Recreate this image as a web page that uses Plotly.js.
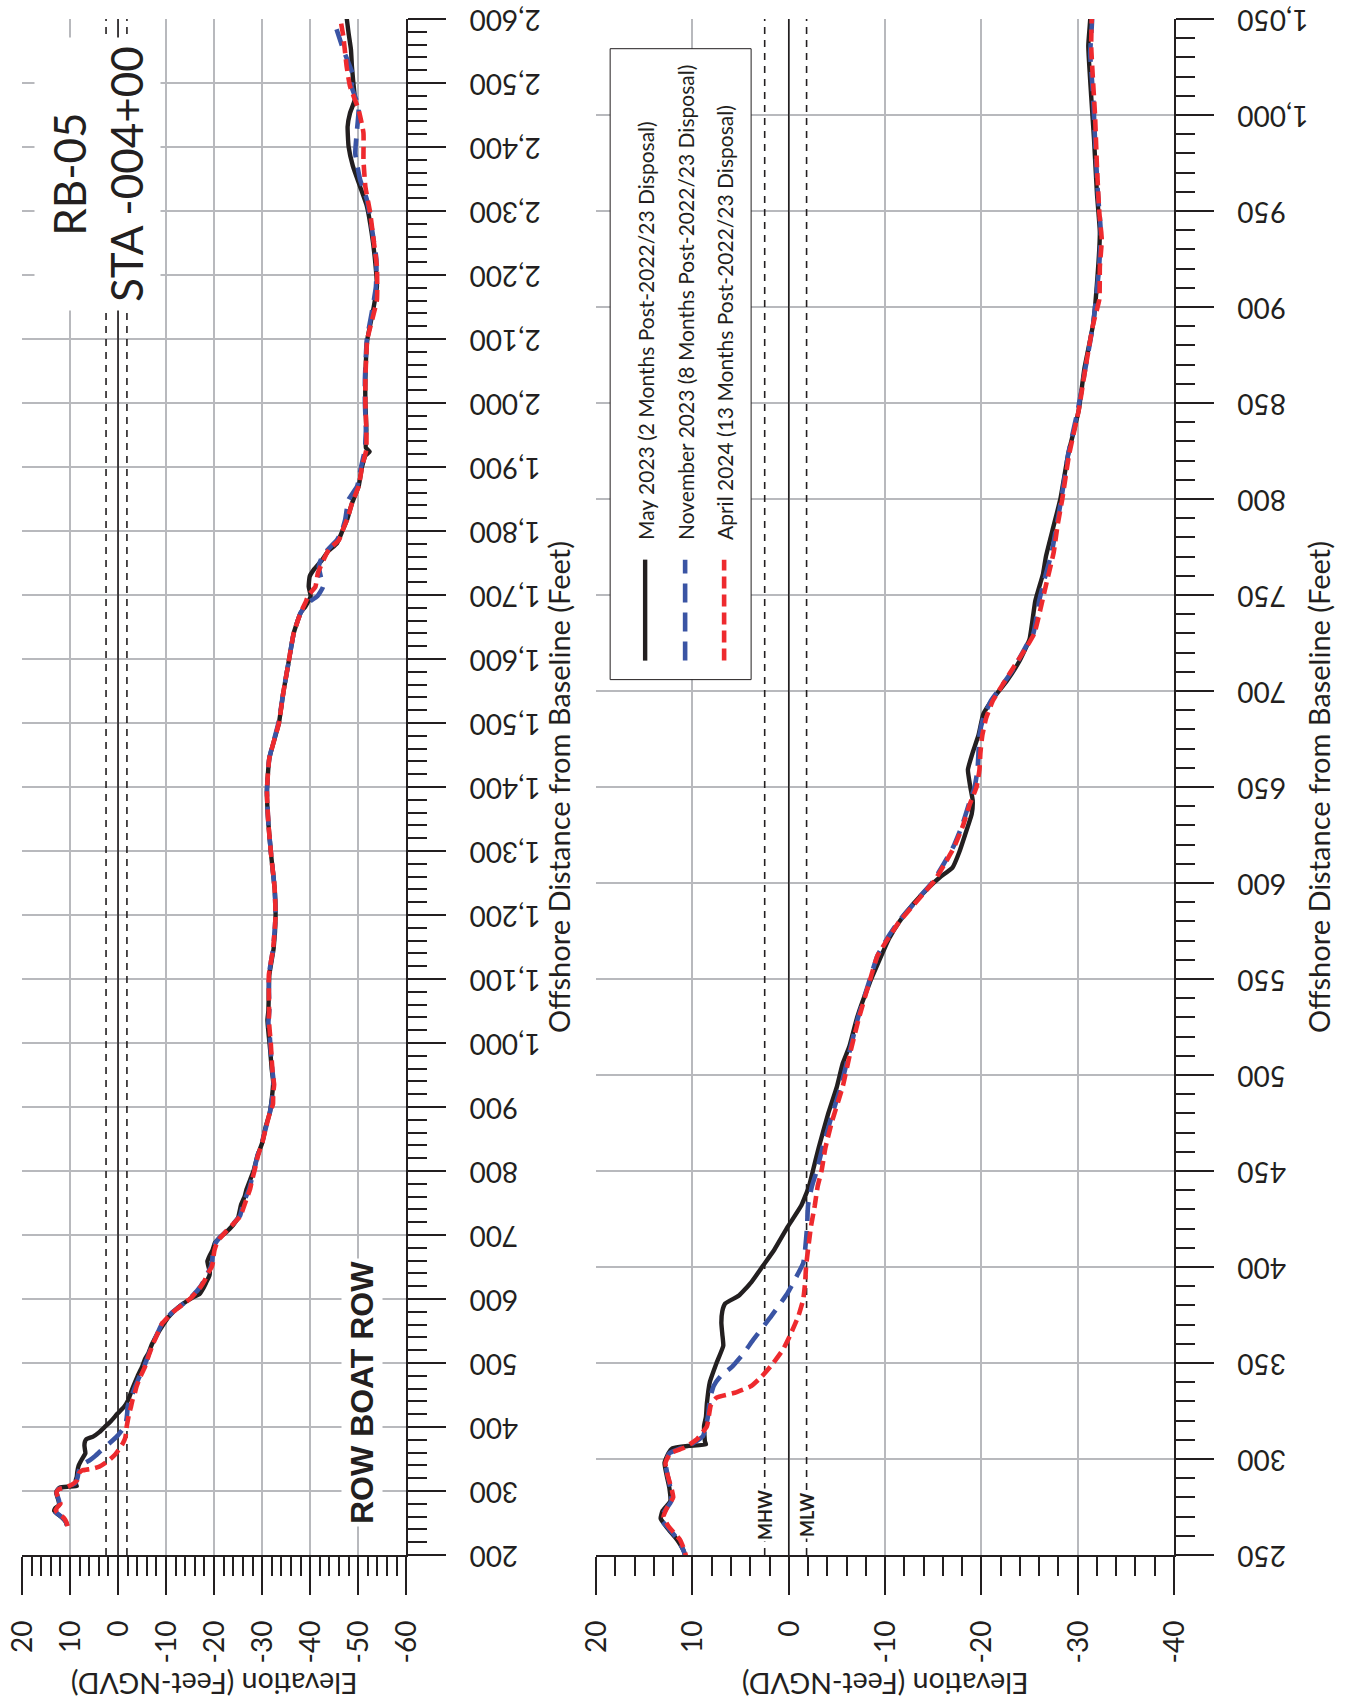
<!DOCTYPE html>
<html>
<head>
<meta charset="utf-8">
<script src="https://cdn.plot.ly/plotly-3.0.1.min.js"></script>
<style>
  html, body { margin: 0; padding: 0; background: #fff; width: 1359px; height: 1701px; overflow: hidden; }
  #plot { position: absolute; left: 0; top: 0; width: 1701px; height: 1359px;
          transform-origin: 0 0; transform: translateY(1701px) rotate(-90deg); }
</style>
</head>
<body>
<div id="plot"></div>
<script>
// ---------------- DATA (distance ft, elevation ft-NGVD) ----------------
const MAY_2023 = [[246,10.6],[252,10.9],[258,11.6],[264,12.6],[269,13.3],[273,13.1],[278,12.3],[285,12.4],[292,12.7],[298,12.9],
 [303,12.5],[305.5,12.1],[306.8,10.4],[307.6,8.6],[309,8.7],[317,8.8],[322,8.6],[329,8.5],[340,8.2],[350,7.5],
 [359,6.8],[365,6.9],[371,7.0],[377,6.9],[381,6.6],[385,5.2],[392,3.9],[400.5,2.7],[409,1.5],[421,0.1],
 [432,-1.3],[442,-2.1],[450,-2.5],[462,-3.1],[480,-4.1],[494,-5.0],[506,-5.6],[515,-6.3],[530,-7.1],
 [548,-8.4],[562,-9.6],[571,-10.4],[580,-11.5],[589,-12.9],[598,-14.6],[603,-15.7],[608,-17.0],[616,-17.7],[625,-18.3],
 [636,-19.0],[643,-19.1],[650,-18.85],[659,-18.6],[668,-19.1],[677,-19.7],[688,-20.2],[696,-21.2],[705,-22.6],[716,-24.0],
 [727,-25.0],[747,-25.6],[761,-26.4],[770,-26.7],[786,-27.5],[800,-28.2],[823,-29.0],[846,-30.1],[868,-30.7],[891,-31.6],
 [919,-32.1],[939,-32.3],[959,-32.0],[987,-31.7],[1010,-31.4],[1036,-31.1],[1050,-31.3],[1106,-31.5],[1148,-32.4],[1199,-32.8],
 [1242,-32.6],[1292,-31.9],[1343,-31.3],[1394,-31.0],[1445,-31.5],[1500,-33.5],[1547,-34.4],[1599,-35.6],[1641,-36.6],[1672,-38.0],
 [1682,-39.0],[1698,-40.1],[1713,-39.7],[1729,-39.9],[1740,-40.8],[1755,-42.5],[1768,-43.7],[1781,-45.6],[1800,-46.7],[1818,-47.7],
 [1844,-48.75],[1870,-50.1],[1900,-50.8],[1918,-51.5],[1924,-52.4],[1930,-51.6],[1958,-51.7],[2000,-51.5],[2037,-51.5],[2099,-51.9],
 [2140,-53.0],[2182,-53.9],[2224,-53.5],[2266,-52.8],[2308,-51.8],[2338,-50.4],[2370,-48.9],[2401,-48.0],[2432,-47.8],[2453,-48.3],
 [2474,-49.3],[2500,-49.0],[2526,-48.7],[2552,-48.5],[2578,-48.0],[2602,-47.6]];

const NOV_2023 = [[246,10.6],[252,10.9],[258,11.5],[264,12.5],[268,13.2],[272,13.0],[278,12.2],[285,12.3],[292,12.6],[298,12.8],
 [303,12.4],[306,11.0],[308,10.0],[312,8.9],[322,8.4],[331,8.2],[338,7.8],[343,7.1],[348,5.9],[355,4.7],
 [362,3.7],[374.5,1.8],[386.6,0.1],[395,-0.8],[402,-1.5],[409,-1.7],[421,-1.9],[432,-2.0],[442,-2.4],[450,-2.9],
 [462,-3.5],[476,-4.3],[494,-5.4],[512,-6.3],[530,-7.2],[548,-8.3],[562,-9.2],[571,-10.2],[580,-11.4],[587,-12.6],
 [594,-13.8],[601,-15.0],[610,-16.1],[619,-17.1],[630,-18.0],[641,-18.7],[650,-19.3],[659,-19.6],[668,-19.7],[677,-19.8],
 [686,-20.2],[695,-21.0],[704,-22.3],[712,-23.4],[723,-24.6],[730,-25.4],[747,-26.0],[761,-26.7],[772,-27.3],[786,-27.8],
 [800,-28.3],[823,-29.0],[846,-30.0],[868,-30.8],[891,-31.6],[919,-32.2],[939,-32.4],[959,-32.1],[987,-31.8],[1010,-31.6],
 [1032,-31.3],[1050,-31.5],[1106,-31.4],[1148,-32.3],[1199,-32.8],[1242,-32.6],[1292,-31.9],[1343,-31.3],[1394,-31.0],[1445,-31.5],
 [1500,-33.4],[1547,-34.4],[1599,-35.6],[1641,-36.6],[1672,-38.0],[1687,-39.4],[1698,-41.5],[1713,-42.7],[1729,-42.2],[1745,-41.8],
 [1760,-42.5],[1771,-43.7],[1786,-45.6],[1800,-46.6],[1818,-47.3],[1849,-48.0],[1870,-49.8],[1900,-50.6],[1927,-51.4],[1958,-51.6],
 [2000,-51.4],[2037,-51.4],[2099,-51.8],[2140,-52.8],[2182,-53.7],[2224,-53.8],[2266,-53.0],[2318,-51.8],[2349,-50.4],[2390,-49.4],
 [2422,-49.7],[2463,-50.1],[2495,-48.6],[2510,-49.0],[2552,-46.9],[2584,-45.5]];

const APR_2024 = [[245,10.5],[252,10.8],[258,11.3],[265,12.5],[270,13.0],[275,12.6],[280,12.0],[285,12.2],[292,12.6],[298,12.8],
 [303,12.3],[306,10.8],[310,9.6],[317,8.5],[328,8.1],[332,7.5],[334.5,5.6],[338,3.9],[343,2.8],[350,1.6],
 [357,0.6],[364,-0.1],[374.5,-1.0],[383,-1.5],[392,-1.7],[400.5,-1.8],[409,-2.0],[421,-2.3],[432,-2.7],[442,-3.0],
 [450,-3.4],[462,-3.8],[476,-4.5],[494,-5.6],[512,-6.4],[530,-7.3],[548,-8.35],[562,-9.2],[571,-10.3],[580,-11.5],
 [587,-12.7],[594,-13.9],[601,-15.1],[610,-16.2],[619,-17.2],[630,-18.1],[641,-18.8],[650,-19.5],[659,-19.8],[668,-19.9],
 [677,-20.1],[686,-20.5],[695,-21.2],[704,-22.3],[712,-23.3],[723,-24.7],[730,-25.5],[755,-26.7],[772,-27.5],[786,-27.9],
 [800,-28.4],[823,-29.1],[846,-30.1],[868,-30.8],[891,-31.6],[904,-32.25],[921,-32.3],[935,-32.5],[949,-32.25],[973,-32.0],
 [1000,-31.8],[1017,-31.6],[1036,-31.4],[1050,-31.45],[1106,-31.4],[1148,-32.3],[1199,-32.8],[1242,-32.6],[1292,-31.9],[1343,-31.3],
 [1394,-31.0],[1445,-31.5],[1500,-33.5],[1547,-34.4],[1599,-35.6],[1641,-36.6],[1672,-38.0],[1688,-39.0],[1700,-39.7],[1713,-41.1],
 [1734,-41.6],[1755,-42.8],[1771,-43.9],[1786,-46.0],[1800,-46.7],[1818,-47.7],[1844,-48.75],[1870,-50.1],[1900,-50.8],[1927,-51.7],
 [1958,-51.7],[2000,-51.5],[2037,-51.5],[2099,-51.9],[2161,-53.9],[2213,-53.9],[2255,-53.2],[2297,-52.5],[2338,-51.5],[2380,-51.1],
 [2422,-51.1],[2458,-50.1],[2495,-48.3],[2526,-47.6],[2573,-46.9],[2602,-46.25]];

const SERIES_NAMES = ['May 2023 (2 Months Post-2022/23 Disposal)',
                      'November 2023 (8 Months Post-2022/23 Disposal)',
                      'April 2024 (13 Months Post-2022/23 Disposal)'];

// tidal datums (ft NGVD)
const MHW_ELEV = 2.5;
const MLW_ELEV = -1.85;
const MSL_ELEV = 0;

// ticks
const TOP_DIST_TICKS  = [200,300,400,500,600,700,800,900,1000,1100,1200,1300,1400,1500,1600,1700,1800,1900,2000,2100,2200,2300,2400,2500,2600];
const TOP_DIST_LABELS = ['200','300','400','500','600','700','800','900','1,000','1,100','1,200','1,300','1,400','1,500','1,600','1,700','1,800','1,900','2,000','2,100','2,200','2,300','2,400','2,500','2,600'];
const BOT_DIST_TICKS  = [250,300,350,400,450,500,550,600,650,700,750,800,850,900,950,1000,1050];
const BOT_DIST_LABELS = ['250','300','350','400','450','500','550','600','650','700','750','800','850','900','950','1,000','1,050'];
const TOP_ELEV_TICKS  = [20,10,0,-10,-20,-30,-40,-50,-60];
const TOP_ELEV_LABELS = ['20','10','0','-10','-20','-30','-40','-50','-60'];
const BOT_ELEV_TICKS  = [20,10,0,-10,-20,-30,-40];
const BOT_ELEV_LABELS = ['20','10','0','-10','-20','-30','-40'];
const TOP_DIST_RANGE = [200, 2600];
const BOT_DIST_RANGE = [250, 1050];

// ---------------- STYLE ----------------
const FONT = 'Lato, "Open Sans", sans-serif';
const INK = '#231f20';
const GRID = '#b8b9bd';
const STYLES = [
  {color: '#231f20', width: 4.4, dash: 'solid'},
  {color: '#3a54a4', width: 4.6, dash: '19px,10px'},
  {color: '#ee2a2e', width: 4.6, dash: '12px,6px'}
];
const SURVEYS = [MAY_2023, NOV_2023, APR_2024];

// figure geometry (unrotated landscape, px)
const FW = 1701, FH = 1359;
const ML = 145.5, MR = 19.3, MT = 21.7, MB = 185;
const PW = FW - ML - MR, PH = FH - MT - MB;
const TOP_PANEL_BOTTOM = 406, BOT_PANEL_TOP = 596;
const px = v => (v - ML) / PW;
const py = v => (FH - MB - v) / PH;

const traces = [];
// tidal datum reference lines (drawn first, under the profiles)
[['x','y',TOP_DIST_RANGE],['x2','y2',BOT_DIST_RANGE]].forEach(([xa, ya, rng]) => {
  [[MSL_ELEV,'solid'],[MHW_ELEV,'7px,6px'],[MLW_ELEV,'7px,6px']].forEach(([v, dash]) => {
    traces.push({type: 'scatter', mode: 'lines', x: rng, y: [v, v], xaxis: xa, yaxis: ya,
                 showlegend: false, hoverinfo: 'skip', line: {color: INK, width: 1.6, dash: dash}});
  });
});
[['x','y'],['x2','y2']].forEach(([xa, ya]) => {
  SURVEYS.forEach((s, i) => {
    traces.push({
      type: 'scatter', mode: 'lines', name: SERIES_NAMES[i],
      x: s.map(p => p[0]), y: s.map(p => p[1]),
      xaxis: xa, yaxis: ya, showlegend: false, hoverinfo: 'skip',
      line: {color: STYLES[i].color, width: STYLES[i].width, dash: STYLES[i].dash, shape: 'spline', smoothing: 0.4}
    });
  });
});

function distAxis(range, ticks, labels, minorStep, anchor) {
  return {
    range: range, anchor: anchor, domain: [0, 1],
    tickmode: 'array', tickvals: ticks, ticktext: labels, tickangle: -90,
    ticks: 'outside', ticklen: 38, tickwidth: 2, tickcolor: INK, ticklabelstandoff: 12,
    minor: {dtick: minorStep, ticks: 'outside', ticklen: 19, tickwidth: 2, tickcolor: INK, showgrid: false},
    showgrid: true, gridcolor: GRID, gridwidth: 2, zeroline: false,
    showline: true, linecolor: INK, linewidth: 2,
    tickfont: {family: FONT, size: 28, color: INK},
    title: {text: 'Offshore Distance from Baseline (Feet)', font: {family: FONT, size: 29, color: INK}, standoff: 2},
    automargin: false
  };
}
function elevAxis(range, ticks, labels, domain, anchor) {
  return {
    range: range, anchor: anchor, domain: domain,
    tickmode: 'array', tickvals: ticks, ticktext: labels,
    ticks: 'outside', ticklen: 38, tickwidth: 2, tickcolor: INK, ticklabelstandoff: 20,
    minor: {dtick: 2, ticks: 'outside', ticklen: 19, tickwidth: 2, tickcolor: INK, showgrid: false},
    showgrid: true, gridcolor: GRID, gridwidth: 2, zeroline: false,
    showline: true, linecolor: INK, linewidth: 2,
    tickfont: {family: FONT, size: 28, color: INK},
    title: {text: 'Elevation (Feet-NGVD)', font: {family: FONT, size: 28.5, color: INK}, standoff: 16},
    automargin: false
  };
}

const topDomain = [py(TOP_PANEL_BOTTOM), 1];
const botDomain = [0, py(BOT_PANEL_TOP)];

// legend box (manual, to reproduce the long line samples)
const LEG = {x0: 1021, x1: 1652, y0: 610, y1: 751, lineX0: 1040, lineX1: 1141, textX: 1159, rows: [645, 685, 724]};
const shapes = [];
shapes.push({type: 'rect', xref: 'paper', yref: 'paper', x0: px(LEG.x0), x1: px(LEG.x1), y0: py(LEG.y1), y1: py(LEG.y0),
             layer: 'above', fillcolor: '#ffffff', line: {color: INK, width: 1}});
const annotations = [];
LEG.rows.forEach((ry, i) => {
  shapes.push({type: 'line', xref: 'paper', yref: 'paper', x0: px(LEG.lineX0), x1: px(LEG.lineX1), y0: py(ry), y1: py(ry),
               layer: 'above', line: {color: STYLES[i].color, width: STYLES[i].width, dash: STYLES[i].dash}});
  annotations.push({xref: 'paper', yref: 'paper', x: px(LEG.textX), y: py(ry), xanchor: 'left', yanchor: 'middle',
                    text: SERIES_NAMES[i], showarrow: false, font: {family: FONT, size: 21, color: INK}});
});

annotations.push({xref: 'x', yref: 'y', x: 2358, y: 4.2, text: 'RB-05<br>STA -004+00', showarrow: false,
                  align: 'center', bgcolor: '#ffffff', borderpad: 8, font: {family: FONT, size: 44, color: INK}});
annotations.push({xref: 'x', yref: 'y', x: 454, y: -50.7, text: '<b>ROW BOAT ROW</b>', showarrow: false,
                  bgcolor: '#ffffff', borderpad: 2, font: {family: '"Liberation Sans", Arial, sans-serif', size: 32, color: INK}});
annotations.push({xref: 'x2', yref: 'y2', x: 271, y: MHW_ELEV, text: '<b>MHW</b>', showarrow: false,
                  bgcolor: '#ffffff', borderpad: 1, font: {family: FONT, size: 18, color: INK}});
annotations.push({xref: 'x2', yref: 'y2', x: 271, y: MLW_ELEV, text: '<b>MLW</b>', showarrow: false,
                  bgcolor: '#ffffff', borderpad: 1, font: {family: FONT, size: 18, color: INK}});

const layout = {
  width: FW, height: FH,
  margin: {l: ML, r: MR, t: MT, b: MB, pad: 0},
  paper_bgcolor: '#ffffff', plot_bgcolor: '#ffffff',
  showlegend: false,
  xaxis: distAxis(TOP_DIST_RANGE, TOP_DIST_TICKS, TOP_DIST_LABELS, 20, 'y'),
  yaxis: elevAxis([-60, 20], TOP_ELEV_TICKS, TOP_ELEV_LABELS, topDomain, 'x'),
  xaxis2: distAxis(BOT_DIST_RANGE, BOT_DIST_TICKS, BOT_DIST_LABELS, 10, 'y2'),
  yaxis2: elevAxis([-40, 20], BOT_ELEV_TICKS, BOT_ELEV_LABELS, botDomain, 'x2'),
  shapes: shapes,
  annotations: annotations
};

Plotly.newPlot('plot', traces, layout, {staticPlot: true, displayModeBar: false, responsive: false});
</script>
</body>
</html>
